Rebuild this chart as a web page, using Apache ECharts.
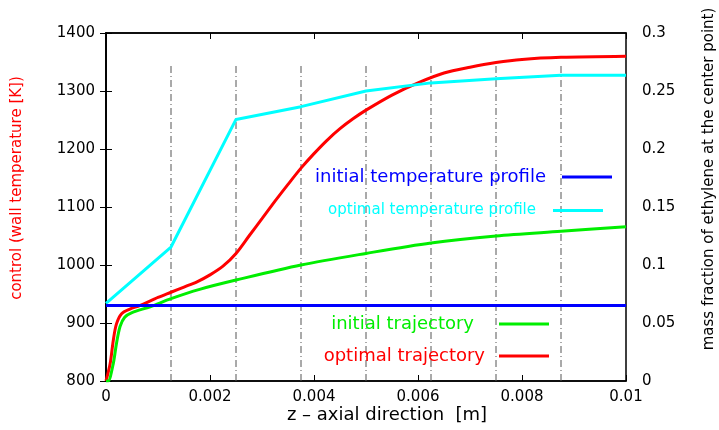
<!DOCTYPE html>
<html>
<head>
<meta charset="utf-8">
<script src="https://cdn.jsdelivr.net/npm/echarts@6/dist/echarts.min.js"></script>
<style>
  html, body { margin: 0; padding: 0; background: #fff; }
  #main { width: 719px; height: 430px; }
</style>
</head>
<body>
<div id="main"></div>
<script>
// dash-dot guide lines (z positions of the control intervals)
const zGrid = [0.00125, 0.0025, 0.00375, 0.005, 0.00625, 0.0075, 0.00875];
const gridTop = 1348;
const gridBottom = 800;

// control profiles (left axis, K)
const ctrlZ = [0, 0.00125, 0.0025, 0.00375, 0.005, 0.00625, 0.0075, 0.00875, 0.01];
const ctrlInitial = [930, 930, 930, 930, 930, 930, 930, 930, 930];
const ctrlOptimal = [934, 1031, 1251, 1273, 1300, 1314, 1321, 1327, 1327];

// trajectories (right axis, mass fraction)
const initZ = [0, 0.00004, 0.00014, 0.0002, 0.00027, 0.00036, 0.0005, 0.00085, 0.00125, 0.0018, 0.0025, 0.00375, 0.005, 0.00625, 0.0075, 0.00875, 0.01];
const initY = [0, 0, 0.015, 0.032, 0.047, 0.055, 0.059, 0.064, 0.071, 0.079, 0.087, 0.100, 0.110, 0.119, 0.125, 0.129, 0.133];
const optZ = [0, 0.00008, 0.00014, 0.0002, 0.0003, 0.00046, 0.00065, 0.001, 0.00125, 0.0015, 0.00175, 0.002, 0.00225, 0.0025,
  0.00275, 0.003, 0.00325, 0.0035, 0.00375, 0.004, 0.00425, 0.0045, 0.00475, 0.005, 0.0055, 0.006, 0.0065, 0.007, 0.0075, 0.008, 0.00875, 0.01];
const optY = [0, 0.015, 0.035, 0.049, 0.058, 0.062, 0.065, 0.072, 0.0765, 0.081, 0.0855, 0.0915, 0.099, 0.110,
  0.125, 0.140, 0.155, 0.1695, 0.1835, 0.196, 0.2075, 0.2175, 0.226, 0.2335, 0.2465, 0.257, 0.2655, 0.2705, 0.2745, 0.2772, 0.279, 0.280];

const FONT = 'DejaVu Sans';
const pair = (xs, ys) => xs.map((x, i) => [x, ys[i]]);

const chart = echarts.init(document.getElementById('main'), null, { renderer: 'canvas' });

const guideSeries = zGrid.map(z => ({
  type: 'line',
  silent: true,
  symbol: 'none',
  data: [[z, gridBottom], [z, gridTop]],
  lineStyle: { color: '#555', width: 1, type: [7, 3, 1, 3] },
  z: 1
}));

function legendBox(name, color, size, right, top, gap) {
  return {
    data: [name],
    right: right,
    top: top,
    padding: 0,
    align: 'right',
    icon: 'rect',
    itemWidth: 50,
    itemHeight: 3,
    selectedMode: false,
    textStyle: { color: color, fontSize: size, fontFamily: FONT, padding: [0, gap, 0, 0] }
  };
}

const option = {
  animation: false,
  textStyle: { fontFamily: FONT },
  grid: {
    left: 106, right: 93, top: 33, bottom: 49,
    containLabel: false,
    outerBoundsMode: 'none',
    show: true, borderColor: '#000', borderWidth: 1.5
  },
  legend: [
    legendBox('initial temperature profile', '#0000ff', 18, 107, 168, 11),
    legendBox('optimal temperature profile', '#00ffff', 15, 116, 203, 12),
    legendBox('initial trajectory', '#00ee00', 18, 170, 315, 20),
    legendBox('optimal trajectory', '#ff0000', 18, 170, 347, 9)
  ],
  xAxis: [{
    type: 'value', min: 0, max: 0.01, interval: 0.002,
    axisLine: { lineStyle: { color: '#000', width: 1.5 } },
    axisTick: { inside: true, length: 6, lineStyle: { color: '#000' } },
    axisLabel: { color: '#000', fontSize: 15, margin: 9,
      formatter: v => String(+v.toFixed(4)) },
    splitLine: { show: false }
  }, {
    type: 'value', position: 'top', min: 0, max: 0.01, interval: 0.002,
    axisLine: { lineStyle: { color: '#000', width: 1.5 } },
    axisTick: { inside: true, length: 6, lineStyle: { color: '#000' } },
    axisLabel: { show: false },
    splitLine: { show: false }
  }],
  yAxis: [{
    type: 'value', min: 800, max: 1400, interval: 100,
    axisLine: { show: true, lineStyle: { color: '#000', width: 1.5 } },
    axisTick: { show: true, inside: true, length: 6, lineStyle: { color: '#000' } },
    axisLabel: { color: '#000', fontSize: 15, margin: 11, formatter: v => String(v) },
    splitLine: { show: false }
  }, {
    type: 'value', position: 'right', min: 0, max: 0.3, interval: 0.05,
    axisLine: { show: true, lineStyle: { color: '#000', width: 1.5 } },
    axisTick: { show: true, inside: true, length: 6, lineStyle: { color: '#000' } },
    axisLabel: { color: '#000', fontSize: 15, margin: 16,
      formatter: v => String(+v.toFixed(2)) },
    splitLine: { show: false }
  }],
  graphic: [{
    type: 'text', x: 17, y: 188, rotation: Math.PI / 2,
    style: { text: 'control (wall temperature [K])', fill: '#ff0000',
      font: '15px "DejaVu Sans"', align: 'center', verticalAlign: 'middle' }
  }, {
    type: 'text', x: 709, y: 179, rotation: Math.PI / 2,
    style: { text: 'mass fraction of ethylene at the center point)', fill: '#000',
      font: '15px "DejaVu Sans"', align: 'center', verticalAlign: 'middle' }
  }, {
    type: 'text', x: 387, y: 415,
    style: { text: 'z \u2013 axial direction  [m]', fill: '#000',
      font: '18px "DejaVu Sans"', align: 'center', verticalAlign: 'middle' }
  }],
  series: guideSeries.concat([{
    name: 'optimal trajectory', type: 'line', yAxisIndex: 1, symbol: 'none',
    smooth: 0.3, data: pair(optZ, optY), color: '#ff0000',
    lineStyle: { color: '#ff0000', width: 3 }, z: 3
  }, {
    name: 'initial trajectory', type: 'line', yAxisIndex: 1, symbol: 'none',
    smooth: 0.3, data: pair(initZ, initY), color: '#00ee00',
    lineStyle: { color: '#00ee00', width: 3 }, z: 4
  }, {
    name: 'optimal temperature profile', type: 'line', symbol: 'none',
    data: pair(ctrlZ, ctrlOptimal), color: '#00ffff',
    lineStyle: { color: '#00ffff', width: 3 }, z: 5
  }, {
    name: 'initial temperature profile', type: 'line', symbol: 'none',
    data: pair(ctrlZ, ctrlInitial), color: '#0000ff',
    lineStyle: { color: '#0000ff', width: 3 }, z: 6
  }])
};

chart.setOption(option);
</script>
</body>
</html>
